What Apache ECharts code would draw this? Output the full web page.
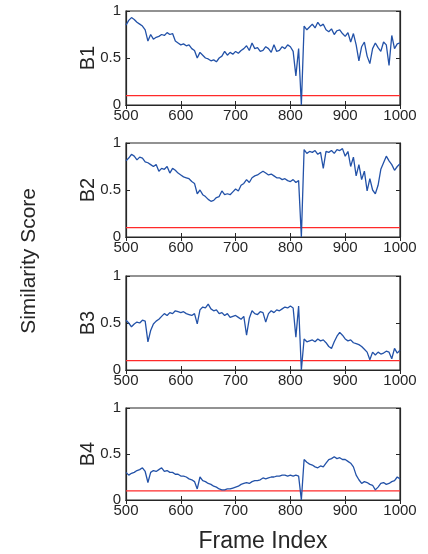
<!DOCTYPE html>
<html><head><meta charset="utf-8">
<script src="https://cdn.jsdelivr.net/npm/echarts@6/dist/echarts.min.js"></script>
<style>html,body{margin:0;padding:0;background:#fff}#c{width:428px;height:554px}</style>
</head><body><div id="c"></div>
<script>
const frames = [500,505,510,515,520,525,530,535,540,545,550,555,560,565,570,575,580,585,590,595,600,605,610,615,620,625,630,635,640,645,650,655,660,665,670,675,680,685,690,695,700,705,710,715,720,725,730,735,740,745,750,755,760,765,770,775,780,785,790,795,800,805,810,815,820,825,830,835,840,845,850,855,860,865,870,875,880,885,890,895,900,905,910,915,920,925,930,935,940,945,950,955,960,965,970,975,980,985,990,995,1000];
const panelNames = ['B1','B2','B3','B4'];
const b1 = [0.85,0.90,0.93,0.91,0.88,0.86,0.84,0.80,0.68,0.75,
0.70,0.72,0.73,0.75,0.74,0.77,0.75,0.76,0.68,0.66,
0.64,0.65,0.63,0.64,0.60,0.58,0.50,0.56,0.53,0.50,
0.49,0.47,0.48,0.46,0.50,0.52,0.57,0.53,0.56,0.54,
0.57,0.55,0.58,0.60,0.63,0.58,0.66,0.60,0.61,0.57,
0.58,0.62,0.60,0.56,0.64,0.57,0.58,0.62,0.60,0.64,
0.62,0.57,0.31,0.60,0.00,0.84,0.80,0.83,0.86,0.82,
0.88,0.84,0.86,0.80,0.78,0.81,0.75,0.79,0.80,0.76,
0.73,0.77,0.67,0.76,0.64,0.47,0.62,0.67,0.52,0.44,
0.60,0.66,0.61,0.57,0.67,0.64,0.42,0.74,0.60,0.65,
0.66];
const b2 = [0.81,0.84,0.88,0.86,0.82,0.85,0.84,0.80,0.79,0.77,
0.75,0.77,0.70,0.73,0.72,0.75,0.68,0.73,0.71,0.68,
0.66,0.64,0.63,0.62,0.59,0.57,0.46,0.50,0.45,0.43,
0.40,0.38,0.39,0.42,0.43,0.49,0.45,0.46,0.45,0.48,
0.51,0.49,0.55,0.57,0.61,0.58,0.63,0.65,0.66,0.68,
0.70,0.68,0.66,0.67,0.65,0.63,0.63,0.61,0.62,0.60,
0.59,0.61,0.58,0.60,0.00,0.93,0.89,0.91,0.90,0.92,
0.88,0.90,0.73,0.91,0.90,0.92,0.89,0.93,0.92,0.94,
0.86,0.91,0.75,0.85,0.65,0.77,0.61,0.70,0.49,0.62,
0.50,0.46,0.55,0.72,0.79,0.86,0.81,0.77,0.71,0.75,
0.78];
const b3 = [0.53,0.50,0.46,0.49,0.51,0.50,0.53,0.52,0.30,0.42,
0.49,0.52,0.54,0.57,0.60,0.58,0.61,0.60,0.63,0.62,
0.61,0.62,0.60,0.59,0.58,0.60,0.49,0.64,0.67,0.66,
0.70,0.65,0.63,0.64,0.60,0.61,0.58,0.60,0.56,0.57,
0.58,0.56,0.54,0.57,0.37,0.55,0.63,0.60,0.59,0.62,
0.61,0.51,0.60,0.63,0.61,0.64,0.63,0.65,0.67,0.66,
0.68,0.66,0.35,0.68,0.00,0.33,0.30,0.31,0.32,0.30,
0.33,0.31,0.32,0.29,0.25,0.23,0.30,0.36,0.40,0.37,
0.33,0.31,0.32,0.29,0.28,0.27,0.25,0.22,0.19,0.11,
0.19,0.16,0.19,0.17,0.18,0.20,0.19,0.12,0.23,0.18,
0.21];
const b4 = [0.30,0.27,0.29,0.30,0.32,0.33,0.35,0.31,0.19,0.30,
0.32,0.31,0.33,0.35,0.31,0.32,0.30,0.30,0.28,0.28,
0.26,0.26,0.25,0.23,0.22,0.20,0.12,0.25,0.21,0.20,
0.18,0.17,0.15,0.14,0.12,0.11,0.11,0.12,0.12,0.13,
0.14,0.15,0.17,0.18,0.19,0.18,0.20,0.21,0.21,0.22,
0.24,0.23,0.24,0.25,0.25,0.26,0.26,0.27,0.27,0.26,
0.27,0.26,0.27,0.26,0.00,0.44,0.41,0.39,0.38,0.36,
0.35,0.37,0.36,0.40,0.44,0.45,0.47,0.45,0.46,0.44,
0.44,0.42,0.40,0.36,0.27,0.22,0.18,0.20,0.19,0.17,
0.16,0.11,0.14,0.18,0.19,0.17,0.18,0.20,0.21,0.25,
0.23];
const threshold = 0.1;

const panels = [b1,b2,b3,b4];
const tops = [11,143,276,408];
const H = 94;
const FONT = 'Liberation Sans, Arial, Helvetica, sans-serif';
const INK = '#262626';
const grid=[], xAxis=[], yAxis=[], series=[];
panels.forEach((vals,i)=>{
  grid.push({left:126, right:28, top:tops[i], height:H, show:true, borderColor:INK, borderWidth:1.2, backgroundColor:'transparent'});
  const common = {min:500,max:1000,interval:100,gridIndex:i,type:'value',splitLine:{show:false}};
  xAxis.push(Object.assign({}, common, {position:'bottom',
    axisLine:{show:true,lineStyle:{color:INK,width:1.2}},
    axisTick:{show:true,inside:true,length:4,lineStyle:{color:INK}},
    axisLabel:{show:true,color:INK,fontSize:15,fontFamily:FONT,margin:3,formatter:v=>String(v)},
    name: i===3 ? 'Frame Index' : '', nameLocation:'middle', nameGap:30,
    nameTextStyle:{fontSize:23,color:INK,fontFamily:FONT}}));
  xAxis.push(Object.assign({}, common, {position:'top',
    axisLine:{show:true,lineStyle:{color:INK,width:1.2}},
    axisTick:{show:true,inside:true,length:4,lineStyle:{color:INK}},
    axisLabel:{show:false}}));
  const yc = {min:0,max:1,interval:0.5,gridIndex:i,type:'value',splitLine:{show:false}};
  yAxis.push(Object.assign({}, yc, {position:'left',
    axisLine:{show:true,lineStyle:{color:INK,width:1.2}},
    axisTick:{show:true,inside:true,length:4,lineStyle:{color:INK}},
    axisLabel:{show:true,color:INK,fontSize:15,fontFamily:FONT,margin:5,formatter:v=>String(v)},
    name: panelNames[i], nameLocation:'middle', nameGap:28, nameRotate:90, nameMoveOverlap:false,
    nameTextStyle:{fontSize:20,color:INK,fontFamily:FONT}}));
  yAxis.push(Object.assign({}, yc, {position:'right',
    axisLine:{show:true,lineStyle:{color:INK,width:1.2}},
    axisTick:{show:true,inside:true,length:4,lineStyle:{color:INK}},
    axisLabel:{show:false}}));
  series.push({type:'line', xAxisIndex:2*i, yAxisIndex:2*i, showSymbol:false, symbol:'none',
    data: frames.map((f,k)=>[f, vals[k]]),
    lineStyle:{color:'#2352a8', width:1.3}, z:3});
  series.push({type:'line', xAxisIndex:2*i, yAxisIndex:2*i, showSymbol:false, symbol:'none',
    data: [[500,threshold],[1000,threshold]],
    lineStyle:{color:'#ff2a2a', width:1.2}, z:2});
});
const chart = echarts.init(document.getElementById('c'), null, {renderer:'canvas'});
chart.setOption({
  animation:false,
  backgroundColor:'#ffffff',
  grid, xAxis, yAxis, series,
  graphic:[{type:'text', left:19, top:188, rotation:Math.PI/2,
    style:{text:'Similarity Score', fontSize:21, fill:INK, fontFamily:FONT}}]
});
</script></body></html>
